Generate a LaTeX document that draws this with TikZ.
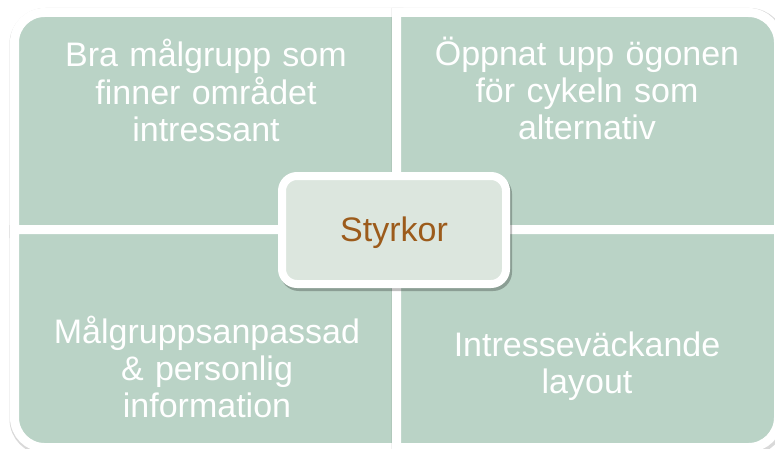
\documentclass[tikz,border=0pt]{standalone}
\usepackage{fontspec}
\setmainfont{Liberation Sans}
\definecolor{sagefill}{RGB}{186,211,198}
\definecolor{sagelight}{RGB}{220,230,222}
\definecolor{styrkbrown}{RGB}{156,91,27}
\tikzset{
  quadrant/.style={
    fill=sagefill,
    draw=white,
    line width=9pt,
    preaction={
      draw=black,
      draw opacity=.15,
      line width=12pt,
      transform canvas={shift={(1pt,-1.5pt)}}
    }
  },
  quadtext/.style={
    text=white,
    align=center,
    text width=360pt,
    inner sep=0pt,
    anchor=base,
    font=\fontsize{34}{37}\selectfont
  },
  centerbox/.style={
    rectangle,
    rounded corners=15pt,
    draw=white,
    fill=sagelight,
    line width=8pt,
    minimum width=224pt,
    minimum height=108pt,
    text=styrkbrown,
    text height=24pt,
    text depth=1pt,
    font=\fontsize{34}{40}\selectfont,
    preaction={
      draw=black,
      draw opacity=.25,
      line width=8pt,
      transform canvas={shift={(2pt,-3pt)}}
    }
  }
}
\begin{document}
\begin{tikzpicture}[x=1pt,y=1pt]
  \useasboundingbox[fill=white] (0,0) rectangle (775,448);
  \draw[quadrant] (396.5,217.5) -- (14.5,217.5) -- (14.5,405.5)
    arc[start angle=180,end angle=90,radius=30pt] -- (396.5,435.5) -- cycle;
  \draw[quadrant] (396.5,217.5) -- (396.5,435.5) -- (748.5,435.5)
    arc[start angle=90,end angle=0,radius=30pt] -- (778.5,217.5) -- cycle;
  \draw[quadrant] (396.5,218.5) -- (396.5,0.5) -- (44.5,0.5)
    arc[start angle=270,end angle=180,radius=30pt] -- (14.5,218.5) -- cycle;
  \draw[quadrant] (396.5,218.5) -- (396.5,0.5) -- (748.5,0.5)
    arc[start angle=270,end angle=360,radius=30pt] -- (778.5,218.5) -- cycle;
  \node[quadtext] (malgrupp) at (206,381) {Bra målgrupp som\\finner området\\intressant};
  \node[quadtext] (ogonen) at (587,382) {Öppnat upp ögonen\\för cykeln som\\alternativ};
  \node[quadtext] (personlig) at (207,105) {Målgruppsanpassad\\\& personlig\\information};
  \node[quadtext] (layout) at (587,92) {Intresseväckande\\layout};
  \node[centerbox] (styrkor) at (394,218) {Styrkor};
\end{tikzpicture}
\end{document}
